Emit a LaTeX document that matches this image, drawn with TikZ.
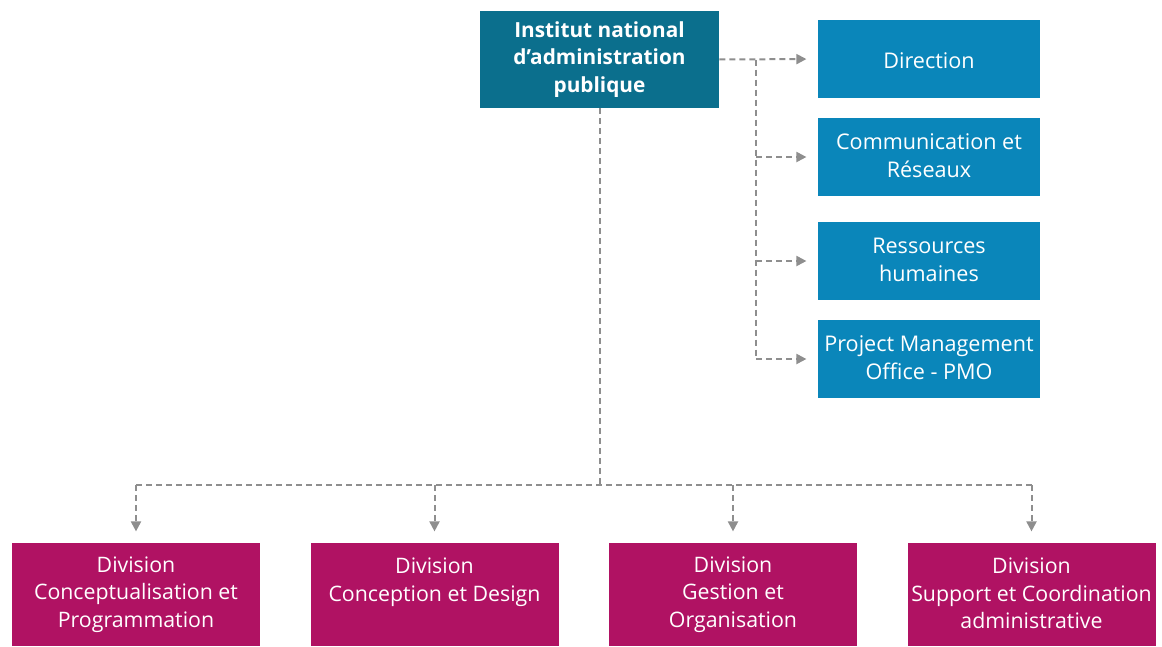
\documentclass[tikz,border=0pt]{standalone}
\usepackage{fontspec}
\setmainfont{Open Sans}
\usetikzlibrary{arrows.meta}

\definecolor{inapblue}{HTML}{0B6F8D}
\definecolor{staffblue}{HTML}{0A86BA}
\definecolor{divmagenta}{HTML}{B01263}
\definecolor{linkgray}{HTML}{8E8E8E}

\newcommand{\boxstrut}{\rule[-0.1em]{0pt}{1.05em}}

\begin{document}
\begin{tikzpicture}[x=0.75pt, y=-0.75pt,
    box/.style={text=white, align=center, inner sep=0pt,
        execute at begin node=\boxstrut, execute at end node=\boxstrut},
    headbox/.style={box, fill=inapblue,
        font=\bfseries\fontsize{15.6}{20.6}\selectfont,
        minimum width=179.25pt, minimum height=72.75pt},
    staffbox/.style={box, fill=staffblue,
        font=\fontsize{16.2}{21}\selectfont,
        minimum width=166.5pt, minimum height=58.5pt},
    divbox/.style={box, fill=divmagenta,
        font=\fontsize{16}{20.5}\selectfont,
        minimum width=186pt, minimum height=77.25pt},
    bus/.style={draw=linkgray, line width=1.5pt, dash pattern=on 4.5pt off 3pt},
    link/.style={bus, -{Triangle[length=7.5pt, width=7.5pt]}, shorten >=8.5pt}
]

    \useasboundingbox (0, 0) rectangle (1162, 646);

    % Institute at the top
    \node[headbox] (inap) at (599.5, 59.5) {Institut national\\d’administration\\publique};

    % Staff units on the right
    \node[staffbox] (dir) at (929, 59) {Direction};
    \node[staffbox] (com) at (929, 157) {Communication et\\Réseaux};
    \node[staffbox] (rh) at (929, 261) {Ressources\\humaines};
    \node[staffbox] (pmo) at (929, 359) {Project Management\\Office - PMO};

    % Divisions along the bottom
    \node[divbox] (dcp) at (136, 594.5) {Division\\Conceptualisation et\\Programmation};
    \node[divbox] (dcd) at (434.5, 594.5) {Division\\Conception et Design\\};
    \node[divbox] (dgo) at (733, 594.5) {Division\\Gestion et\\Organisation};
    \node[divbox] (dsc) at (1031.5, 594.5) {Division\\Support et Coordination\\administrative};



    \coordinate (rbus) at (756, 59.5);
    \coordinate (bbus) at (599.5, 485);

    \draw[link] (inap.east) -- (dir.west);
    \draw[bus] (rbus) -- (rbus |- pmo.west);
    \foreach \unit in {com, rh, pmo}
        \draw[link] (rbus |- \unit.west) -- (\unit.west);



    \draw[bus] (inap.south) -- (bbus);
    \draw[bus] (dcp.north |- bbus) -- (dsc.north |- bbus);
    \foreach \div in {dcp, dcd, dgo, dsc}
        \draw[link] (\div.north |- bbus) -- (\div.north);

\end{tikzpicture}
\end{document}
